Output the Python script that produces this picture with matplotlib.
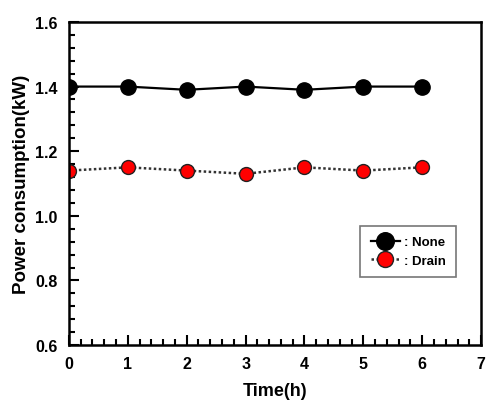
import matplotlib.pyplot as plt
from matplotlib.ticker import MultipleLocator

plt.rcParams['font.family'] = ['Liberation Sans', 'DejaVu Sans']
plt.rcParams['font.weight'] = 'bold'

time_h = [0, 1, 2, 3, 4, 5, 6]
power_none = [1.40, 1.40, 1.39, 1.40, 1.39, 1.40, 1.40]
power_drain = [1.14, 1.15, 1.14, 1.13, 1.15, 1.14, 1.15]

fig = plt.figure(figsize=(4.92, 4.10), dpi=100)
ax = fig.add_axes([0.140, 0.156, 0.838, 0.788])

ax.plot(time_h, power_none, color='black', lw=1.6, marker='o', ms=11,
        markerfacecolor='black', markeredgecolor='black', label=': None')
ax.plot(time_h, power_drain, color='#333333', lw=1.8, ls=(0, (1, 1)), marker='o', ms=10,
        markerfacecolor='red', markeredgecolor='#222222', markeredgewidth=1, label=': Drain')

ax.set_xlim(0, 7)
ax.set_ylim(0.6, 1.6)
ax.xaxis.set_major_locator(MultipleLocator(1))
ax.xaxis.set_minor_locator(MultipleLocator(0.2))
ax.yaxis.set_major_locator(MultipleLocator(0.2))
ax.yaxis.set_minor_locator(MultipleLocator(0.04))
ax.yaxis.set_major_formatter(lambda v, p: f'{v:.1f}')
ax.tick_params(which='both', direction='in', top=False, right=False, width=1.5)
ax.tick_params(which='major', length=7, labelsize=11.5, pad=8)
ax.tick_params(which='minor', length=4)
for s in ax.spines.values():
    s.set_linewidth(1.8)

ax.set_xlabel('Time(h)', fontsize=13, fontweight='bold', labelpad=8)
ax.set_ylabel('Power consumption(kW)', fontsize=13.5, fontweight='bold', labelpad=4)

leg = ax.legend(loc='upper left', bbox_to_anchor=(0.690, 0.39), fancybox=False,
                edgecolor='#555555', fontsize=9.5, handlelength=2.2, borderpad=0.8,
                labelspacing=0.45, handletextpad=0.3, markerscale=1.15)
leg.get_frame().set_linewidth(1.2)

fig.savefig('out.png', dpi=100)
